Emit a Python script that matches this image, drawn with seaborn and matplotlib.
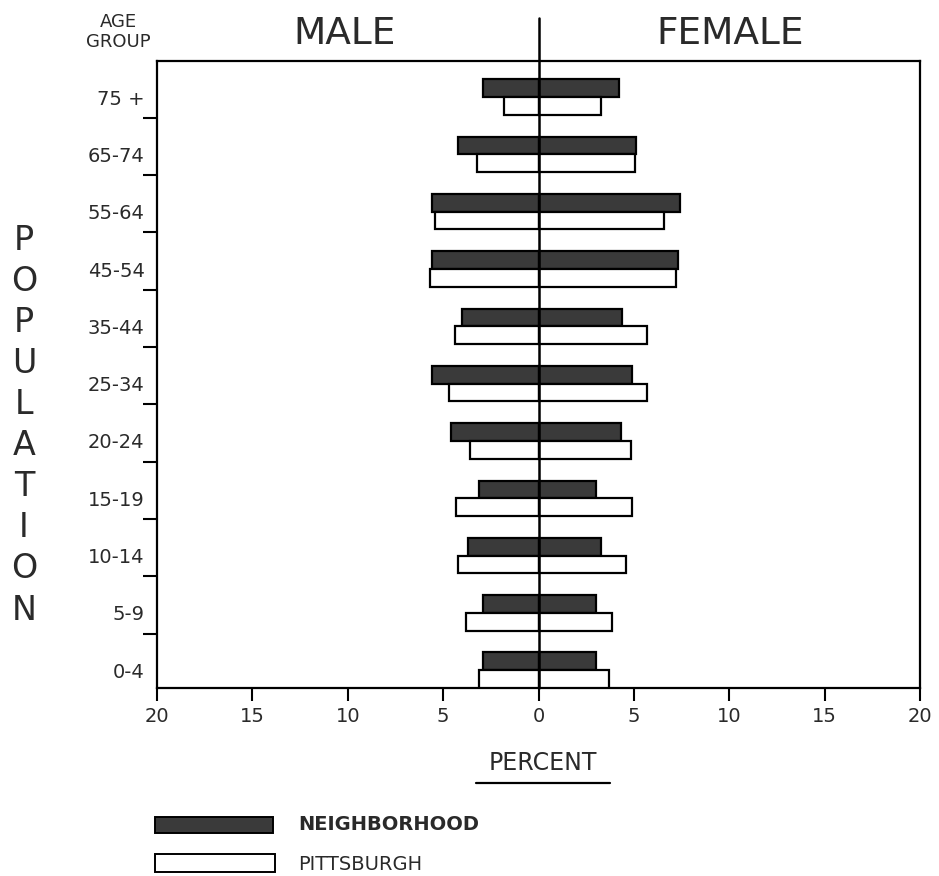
import matplotlib
matplotlib.use("Agg")
import matplotlib.pyplot as plt
from matplotlib.patches import Rectangle
from matplotlib.lines import Line2D
import seaborn as sns
import pandas as pd

# ---------------- data (percent) ----------------
age_groups = ["75 +", "65-74", "55-64", "45-54", "35-44", "25-34",
              "20-24", "15-19", "10-14", "5-9", "0-4"]
neigh_male = [2.9, 4.2, 5.6, 5.6, 4.0, 5.6, 4.6, 3.1, 3.7, 2.9, 2.9]
neigh_female = [4.2, 5.1, 7.4, 7.3, 4.4, 4.9, 4.35, 3.0, 3.3, 3.0, 3.0]
pitt_male = [1.8, 3.2, 5.4, 5.7, 4.4, 4.7, 3.6, 4.3, 4.2, 3.8, 3.1]
pitt_female = [3.3, 5.05, 6.6, 7.2, 5.7, 5.7, 4.85, 4.9, 4.6, 3.85, 3.7]
sources = ["NEIGHBORHOOD", "PITTSBURGH"]
x_ticks = [-20, -15, -10, -5, 0, 5, 10, 15, 20]

male_df = pd.DataFrame({
    "age": age_groups * 2,
    "source": [sources[0]] * len(age_groups) + [sources[1]] * len(age_groups),
    "value": [-v for v in neigh_male] + [-v for v in pitt_male],
})
female_df = pd.DataFrame({
    "age": age_groups * 2,
    "source": [sources[0]] * len(age_groups) + [sources[1]] * len(age_groups),
    "value": neigh_female + pitt_female,
})

# ---------------- style ----------------
sns.set_style("white")
plt.rcParams["font.family"] = ["DejaVu Sans"]
DARK = "#3a3a3a"
TXT = "#2a2a2a"
palette = {sources[0]: DARK, sources[1]: "white"}

W, H = 939, 876
fig = plt.figure(figsize=(W / 100, H / 100), dpi=100)


def fx(x):
    return x / W


def fy(y):
    return 1 - y / H


ax = fig.add_axes([fx(157), fy(688), fx(920) - fx(157), fy(61) - fy(688)])

for df in (male_df, female_df):
    sns.barplot(data=df, x="value", y="age", hue="source", order=age_groups,
                hue_order=sources, palette=palette, orient="h", width=0.62,
                dodge=True, edgecolor="black", linewidth=1.6, errorbar=None,
                legend=False, ax=ax, zorder=3)

n = len(age_groups)
ax.set_xlim(-20, 20)
ax.set_ylim(n - 1 + 0.31, -0.63)
ax.set_xlabel("")
ax.set_ylabel("")

# x ticks
ax.set_xticks(x_ticks)
ax.set_xticklabels([str(abs(t)) for t in x_ticks], fontsize=14, color=TXT)
ax.tick_params(axis="x", which="major", bottom=True, length=9, width=1.5,
               direction="out", pad=5, color="black")

# y labels and ticks between groups
ax.set_yticks(range(n))
ax.set_yticklabels(age_groups, fontsize=14, color=TXT)
ax.tick_params(axis="y", which="major", left=True, length=0, pad=9)
ax.set_yticks([i + 0.36 for i in range(n - 1)], minor=True)
ax.tick_params(axis="y", which="minor", left=True, length=10, width=1.5,
               direction="out", color="black")

for side in ["left", "right", "top", "bottom"]:
    ax.spines[side].set_visible(True)
    ax.spines[side].set_linewidth(1.6)
    ax.spines[side].set_color("black")

# centre line, extending above the frame
ax.axvline(0, ymin=0, ymax=1.069, color="black", lw=1.8, clip_on=False, zorder=4)

# ---------------- texts ----------------
fig.text(fx(118), fy(22), "AGE", ha="center", va="center", fontsize=13, color=TXT)
fig.text(fx(118), fy(42), "GROUP", ha="center", va="center", fontsize=13, color=TXT)
fig.text(fx(345), fy(34), "MALE", ha="center", va="center", fontsize=27, color=TXT)
fig.text(fx(730), fy(34), "FEMALE", ha="center", va="center", fontsize=27, color=TXT)

word = "POPULATION"
for k, ch in enumerate(word):
    y = 240 + k * (610 - 240) / (len(word) - 1)
    fig.text(fx(24), fy(y), ch, ha="center", va="center", fontsize=24, color=TXT)

fig.text(fx(543), fy(763), "PERCENT", ha="center", va="center", fontsize=17, color=TXT)
fig.add_artist(Line2D([fx(476), fx(610)], [fy(783), fy(783)], color="black",
                      lw=1.6, transform=fig.transFigure))

# ---------------- legend ----------------
fig.add_artist(Rectangle((fx(155), fy(833)), fx(273) - fx(155), fy(817) - fy(833),
                         facecolor=DARK, edgecolor="black", lw=1.4,
                         transform=fig.transFigure))
fig.add_artist(Rectangle((fx(155), fy(872)), fx(275) - fx(155), fy(854) - fy(872),
                         facecolor="white", edgecolor="black", lw=1.4,
                         transform=fig.transFigure))
fig.text(fx(298), fy(825), "NEIGHBORHOOD", ha="left", va="center", fontsize=14,
         fontweight="bold", color=TXT)
fig.text(fx(298), fy(864), "PITTSBURGH", ha="left", va="center", fontsize=14,
         color=TXT)

fig.savefig("out.png", dpi=100)
